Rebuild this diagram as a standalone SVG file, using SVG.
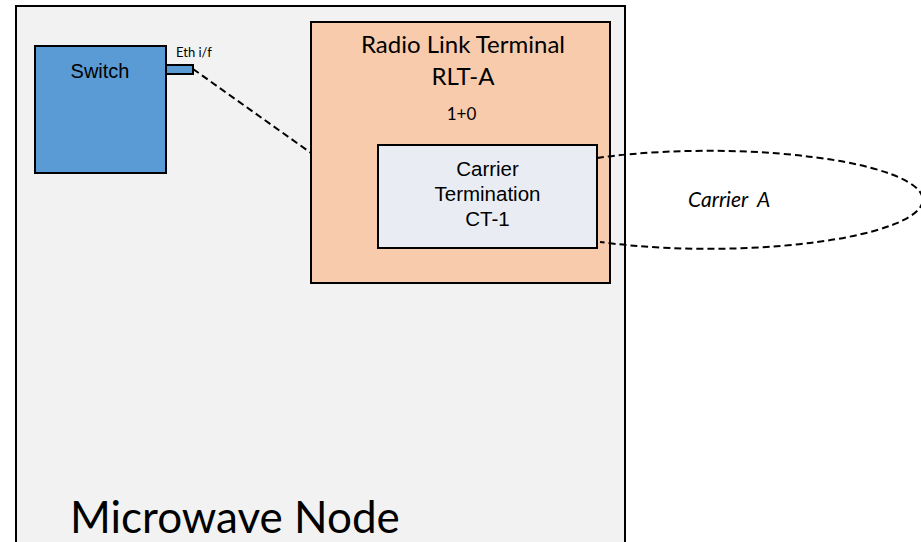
<svg xmlns="http://www.w3.org/2000/svg" width="921" height="542" viewBox="0 0 921 542">
<style>
.box{stroke:#000;stroke-width:2}
.dash{fill:none;stroke:#000;stroke-width:2;stroke-dasharray:7,4}
.lato{font-family:Lato,"Noto Sans",sans-serif;fill:#000}
.arial{font-family:"Liberation Sans",Arial,sans-serif;fill:#000}
</style>
<rect width="921" height="542" fill="#fff"/>
<g id="microwave-node">
<rect class="box" x="16" y="6" width="609" height="560" fill="#f2f2f2"/>
<text class="lato" x="70" y="533" font-size="44">Microwave Node</text>
</g>
<g id="switch">
<rect class="box" x="35" y="46" width="131" height="127" fill="#5b9bd5"/>
<text class="arial" x="100" y="78" font-size="20" text-anchor="middle">Switch</text>
</g>
<g id="eth-if">
<rect class="box" x="166" y="65" width="27" height="9" fill="#5b9bd5"/>
<text class="lato" x="176" y="57" font-size="13">Eth i/f</text>
</g>
<g id="rlt-a">
<rect class="box" x="311" y="22" width="299" height="261" fill="#f8cbad"/>
<text class="lato" x="463" y="53" font-size="24" text-anchor="middle">Radio Link Terminal</text>
<text class="lato" x="463" y="85" font-size="24" text-anchor="middle">RLT-A</text>
<text class="lato" x="461.5" y="120" font-size="17" text-anchor="middle">1+0</text>
</g>
<g id="ct-1">
<rect class="box" x="378" y="145" width="219" height="103" fill="#e9edf3"/>
<text class="arial" x="487.5" y="176" font-size="20.5" text-anchor="middle">Carrier</text>
<text class="arial" x="487.5" y="201" font-size="20.5" text-anchor="middle">Termination</text>
<text class="arial" x="487.5" y="226" font-size="20.5" text-anchor="middle">CT-1</text>
</g>
<g id="connectors">
<line class="dash" x1="193" y1="69" x2="311" y2="153"/>
<path class="dash" d="M597,158 A214,49 0 1 1 600,242"/>
</g>
<g id="carrier-a">
<text class="lato" x="688" y="207" font-size="21" font-style="italic" xml:space="preserve">Carrier  A</text>
</g>
</svg>
